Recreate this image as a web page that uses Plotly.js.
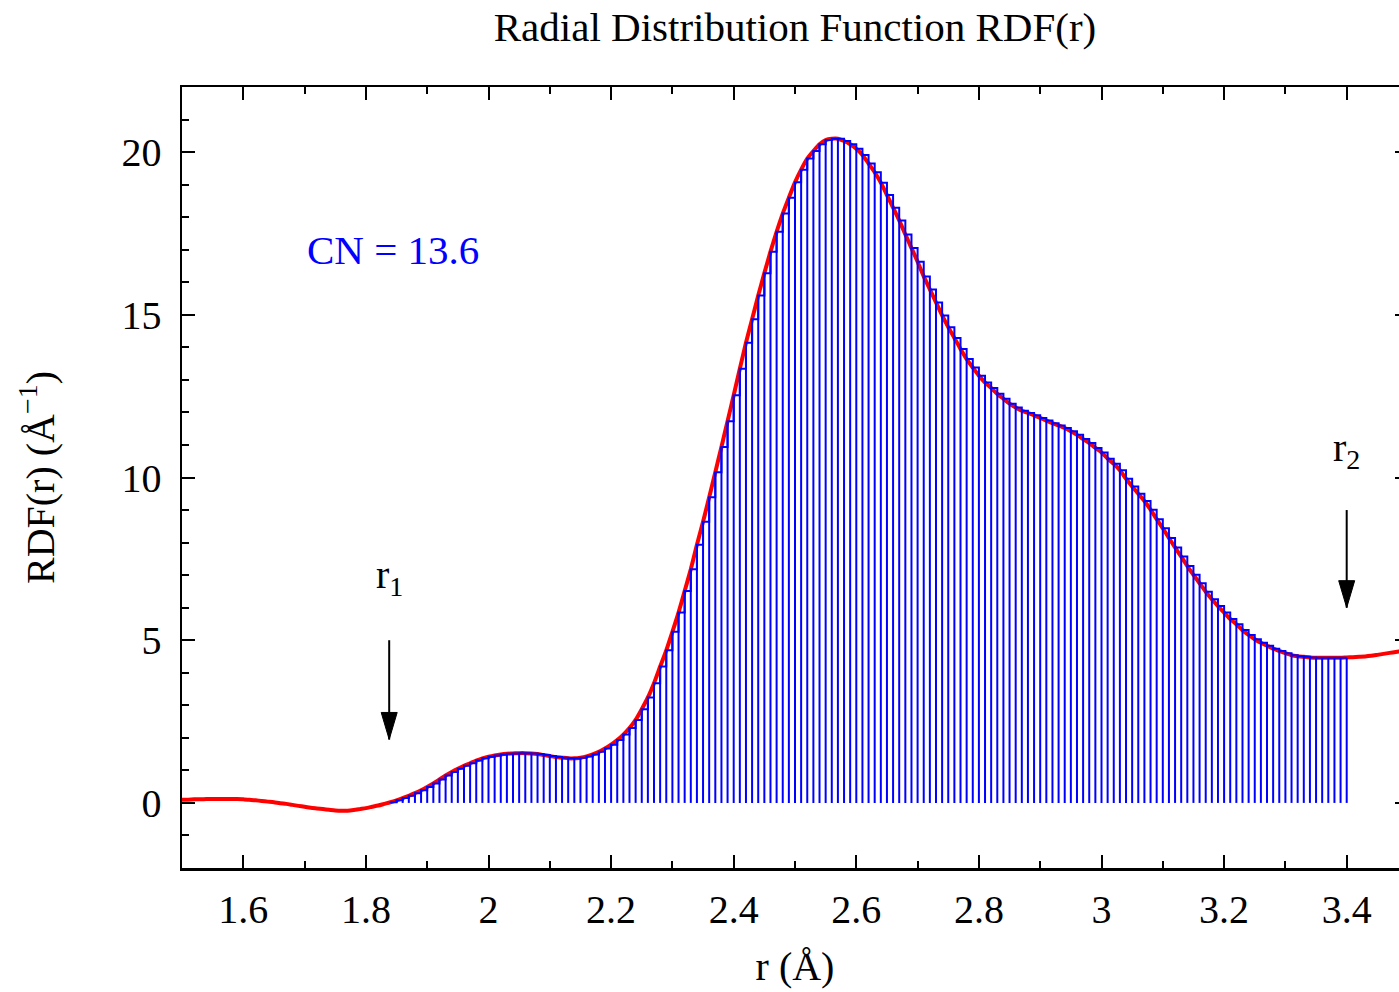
<!DOCTYPE html>
<html>
<head>
<meta charset="utf-8">
<script src="https://cdn.plot.ly/plotly-3.0.1.min.js"></script>
<style>
html,body{margin:0;padding:0;overflow:hidden;background:#fff;}
#chart{width:1420px;height:992px;}
</style>
</head>
<body>
<div id="chart"></div>
<script>
// r grid (Å): start and step
const rStart = 1.50;
const rStep = 0.01;
// RDF(r) values, r = 1.50 ... 3.50
const rdf = [
  0.10,0.10,0.11,0.11,0.12,0.12,0.12,0.12,0.12,0.12,
  0.11,0.10,0.08,0.06,0.04,0.02,-0.01,-0.03,-0.06,-0.09,
  -0.12,-0.15,-0.17,-0.19,-0.21,-0.23,-0.24,-0.24,-0.22,-0.19,
  -0.16,-0.12,-0.08,-0.03,0.02,0.08,0.15,0.22,0.30,0.39,
  0.49,0.60,0.72,0.84,0.95,1.05,1.14,1.22,1.30,1.37,
  1.42,1.46,1.49,1.51,1.52,1.53,1.53,1.52,1.50,1.47,
  1.44,1.41,1.39,1.37,1.37,1.39,1.43,1.49,1.57,1.67,
  1.79,1.93,2.10,2.30,2.55,2.88,3.24,3.68,4.19,4.69,
  5.26,5.85,6.51,7.18,7.93,8.64,9.39,10.16,10.94,11.73,
  12.53,13.34,14.14,14.86,15.59,16.28,16.94,17.55,18.11,18.60,
  19.07,19.46,19.80,20.03,20.24,20.37,20.41,20.41,20.34,20.24,
  20.10,19.91,19.65,19.38,19.06,18.68,18.29,17.90,17.47,17.05,
  16.63,16.18,15.78,15.38,14.98,14.62,14.29,13.95,13.64,13.38,
  13.13,12.92,12.75,12.57,12.42,12.27,12.15,12.05,11.98,11.91,
  11.83,11.75,11.67,11.60,11.52,11.42,11.31,11.18,11.06,10.91,
  10.77,10.58,10.42,10.22,9.96,9.72,9.50,9.28,9.01,8.72,
  8.44,8.14,7.85,7.57,7.28,7.01,6.75,6.49,6.26,6.05,
  5.85,5.65,5.49,5.31,5.16,5.03,4.92,4.83,4.74,4.67,
  4.60,4.54,4.51,4.49,4.47,4.46,4.46,4.46,4.46,4.46,
  4.47,4.48,4.49,4.50,4.52,4.55,4.58,4.61,4.64,4.67,4.70
];
// integration window (histogram boxes)
const binFrom = 1.84;
const binTo = 3.40;
// annotation texts and positions
const titleText = "Radial Distribution Function RDF(r)";
const xTitle = "r (Å)";
const yTitle = "RDF(r) (Å<sup>−1</sup>)";
const cnText = "CN = 13.6";
const cnPos = [1.70, 17.0];
const markerLabels = ["r<sub>1</sub>", "r<sub>2</sub>"];
const markerR = [1.838, 3.40];
const labelY = [6.95, 10.85];
const arrowTail = [5.0, 9.0];
const arrowTip = [1.95, 6.0];

const r = rdf.map((_, i) => +(rStart + i * rStep).toFixed(2));

// histogram boxes: left edges within [binFrom, binTo)
const boxX = [], boxY = [];
r.forEach((x, i) => {
  if (x >= binFrom - 1e-9 && x < binTo - 1e-9) { boxX.push(x); boxY.push(rdf[i]); }
});
boxX.push(binTo); boxY.push(boxY[boxY.length - 1]);

const serif = "Liberation Serif, Times New Roman, serif";
const F = 40;

const boxes = {
  x: boxX, y: boxY, type: "scatter", mode: "lines",
  line: {shape: "hv", color: "#0000ff", width: 2},
  error_y: {type: "data", symmetric: false, array: boxY.map(() => 0), arrayminus: boxY,
            width: 0, thickness: 2, color: "#0000ff", visible: true},
  hoverinfo: "skip"
};
const curve = {
  x: r, y: rdf, type: "scatter", mode: "lines",
  line: {color: "#ff0000", width: 4, shape: "spline", smoothing: 0.6},
  hoverinfo: "skip"
};

const annotations = [
  {x: cnPos[0], y: cnPos[1], xref: "x", yref: "y", text: cnText, showarrow: false,
   xanchor: "left", yanchor: "middle", font: {family: serif, size: 41, color: "#0000ff"}}
];
const shapes = [];
markerR.forEach((x, k) => {
  annotations.push({x: x, y: labelY[k], xref: "x", yref: "y", text: markerLabels[k], showarrow: false,
    xanchor: "center", yanchor: "middle", font: {family: serif, size: F, color: "#000"}});
  shapes.push({type: "line", xref: "x", yref: "y", x0: x, x1: x, y0: arrowTail[k], y1: arrowTip[k],
    line: {color: "#000", width: 2}});
  shapes.push({type: "path", xref: "x", yref: "y", xsizemode: "pixel", ysizemode: "pixel",
    xanchor: x, yanchor: arrowTip[k], path: "M-8,27 L8,27 L0,0 Z",
    fillcolor: "#000", line: {color: "#000", width: 1}});
});

const axisCommon = {
  showline: true, linewidth: 2.5, linecolor: "#000", mirror: "ticks",
  ticks: "inside", ticklen: 13, tickwidth: 2, tickcolor: "#000",
  showgrid: false, zeroline: false,
  tickfont: {family: serif, size: F, color: "#000"}
};

const layout = {
  width: 1420, height: 992,
  margin: {l: 182, r: 12, t: 87, b: 124},
  paper_bgcolor: "#fff", plot_bgcolor: "#fff",
  showlegend: false,
  title: {text: titleText, font: {family: serif, size: 41, color: "#000"},
          xref: "container", yref: "container", x: 795 / 1420, xanchor: "center",
          y: 1 - 27 / 992, yanchor: "middle"},
  xaxis: Object.assign({}, axisCommon, {
    range: [1.5, 3.5], tick0: 0, dtick: 0.2, ticklabelstandoff: 4,
    minor: {dtick: 0.1, ticks: "inside", ticklen: 7, tickwidth: 2, tickcolor: "#000"},
    title: {text: xTitle, font: {family: serif, size: F, color: "#000"}, standoff: 22}
  }),
  yaxis: Object.assign({}, axisCommon, {
    range: [-2, 22], tick0: 0, dtick: 5, ticklabelstandoff: 10,
    minor: {dtick: 1, ticks: "inside", ticklen: 7, tickwidth: 2, tickcolor: "#000"},
    title: {text: yTitle, font: {family: serif, size: F, color: "#000"}, standoff: 55}
  }),
  annotations: annotations,
  shapes: shapes
};

Plotly.newPlot("chart", [curve, boxes], layout, {displayModeBar: false, staticPlot: true});
</script>
</body>
</html>
